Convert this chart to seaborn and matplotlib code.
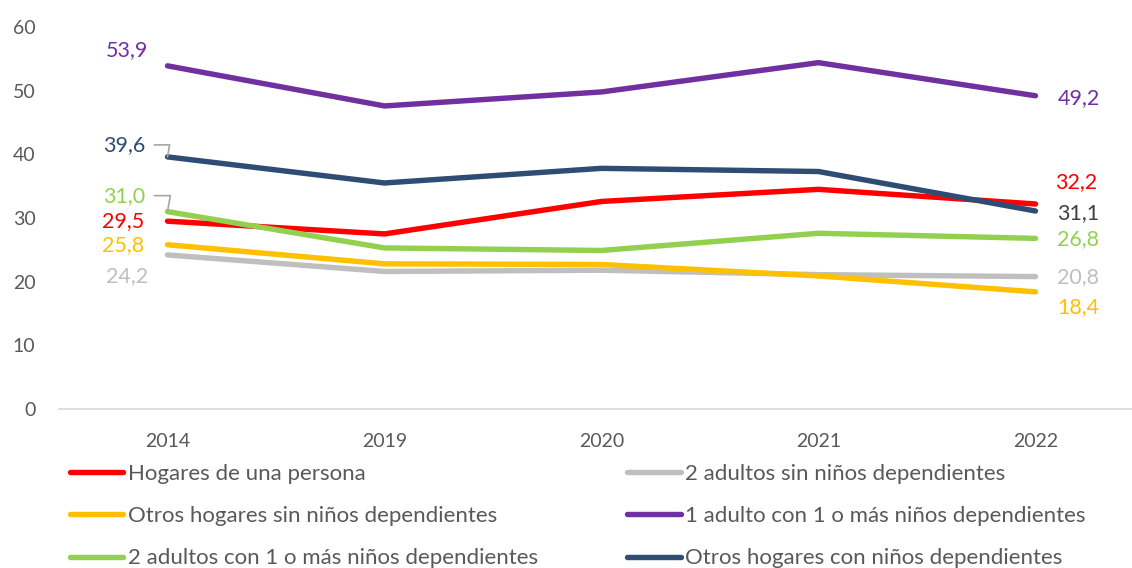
import pandas as pd
import seaborn as sns
import matplotlib.pyplot as plt

# Data
years = ["2014", "2019", "2020", "2021", "2022"]
hogares_una_persona = [29.5, 27.5, 32.6, 34.5, 32.2]
dos_adultos_sin_ninos = [24.2, 21.6, 21.8, 21.1, 20.8]
otros_sin_ninos = [25.8, 22.8, 22.7, 20.9, 18.4]
un_adulto_con_ninos = [53.9, 47.6, 49.8, 54.4, 49.2]
dos_adultos_con_ninos = [31.0, 25.3, 24.9, 27.6, 26.8]
otros_con_ninos = [39.6, 35.5, 37.8, 37.3, 31.1]

series_names = [
    "Hogares de una persona",
    "2 adultos sin niños dependientes",
    "Otros hogares sin niños dependientes",
    "1 adulto con 1 o más niños dependientes",
    "2 adultos con 1 o más niños dependientes",
    "Otros hogares con niños dependientes",
]
series_values = [
    hogares_una_persona,
    dos_adultos_sin_ninos,
    otros_sin_ninos,
    un_adulto_con_ninos,
    dos_adultos_con_ninos,
    otros_con_ninos,
]
colors = ["#FF0000", "#BFBFBF", "#FFC000", "#7030A0", "#92D050", "#2E4C74"]

rows = []
for name, vals in zip(series_names, series_values):
    for y, v in zip(years, vals):
        rows.append({"year": y, "serie": name, "valor": v})
df = pd.DataFrame(rows)

sns.set_style("white")
plt.rcParams["font.family"] = ["Lato", "DejaVu Sans"]

fig = plt.figure(figsize=(11.32, 5.68), dpi=100)
ax = fig.add_axes([59 / 1132, 1 - 409 / 568, 1085 / 1132, 382 / 568])

sns.lineplot(
    data=df, x="year", y="valor", hue="serie", hue_order=series_names,
    palette=colors, linewidth=3.9, ax=ax, legend=True, sort=False,
)
for line in ax.get_lines():
    line.set_solid_capstyle("round")
    line.set_solid_joinstyle("round")

ax.set_ylim(0, 60)
ax.set_xlim(-0.5, 4.5)
ax.set_yticks(range(0, 61, 10))
ax.set_xlabel("")
ax.set_ylabel("")

for s in ["top", "right", "left"]:
    ax.spines[s].set_visible(False)
ax.spines["bottom"].set_color("#D9D9D9")
ax.spines["bottom"].set_linewidth(1.2)

ax.tick_params(axis="y", length=0, pad=17, labelsize=14, labelcolor="#595959")
ax.tick_params(axis="x", which="major", length=0, pad=17, labelsize=14, labelcolor="#595959")
ax.set_xticks([i - 0.5 for i in range(len(years) + 1)], minor=True)
ax.tick_params(axis="x", which="minor", length=6, width=1.2, color="#D9D9D9", direction="out")

# Data labels at first and last year
label_color = {
    0: "#FF0000", 1: "#BFBFBF", 2: "#FFC000", 3: "#7030A0", 4: "#92D050", 5: "#2E4C74",
}
left_offsets = {3: (-19, 16), 5: (-22, 12), 4: (-22, 16), 0: (-23, 0), 2: (-23, 0), 1: (-19, -21)}
right_offsets = {3: (22, -2), 0: (20, 22), 5: (22, -2), 4: (22, -1), 1: (22, -1), 2: (22, -15)}

for idx, (dx, dy) in left_offsets.items():
    v = series_values[idx][0]
    kw = {}
    if idx in (5, 4):
        kw["arrowprops"] = dict(arrowstyle="-", color="#A6A6A6", lw=1.2, shrinkA=4, shrinkB=0,
                                connectionstyle="angle,angleA=0,angleB=80,rad=0")
    ax.annotate(f"{v:.1f}".replace(".", ","), xy=(0, v), xytext=(dx, dy),
                textcoords="offset pixels", ha="right", va="center",
                fontsize=15.5, color=label_color[idx], **kw)

last = len(years) - 1
for idx, (dx, dy) in right_offsets.items():
    v = series_values[idx][last]
    c = "#404040" if idx == 5 else label_color[idx]
    ax.annotate(f"{v:.1f}".replace(".", ","), xy=(last, v), xytext=(dx, dy),
                textcoords="offset pixels", ha="left", va="center",
                fontsize=15.5, color=c)

# Legend: column-wise fill, order as in reference
handles, labels = ax.get_legend_handles_labels()
order = [0, 2, 4, 1, 3, 5]
ax.legend([handles[i] for i in order], [labels[i] for i in order],
          loc="upper left", bbox_to_anchor=(70 / 1132, 1 - 464 / 568),
          bbox_transform=fig.transFigure, ncol=2, frameon=False,
          fontsize=16, labelcolor="#595959", handlelength=2.4, handletextpad=0.22,
          columnspacing=4.0, labelspacing=1.0, borderaxespad=0, borderpad=0)

fig.savefig("out.png", dpi=100)
